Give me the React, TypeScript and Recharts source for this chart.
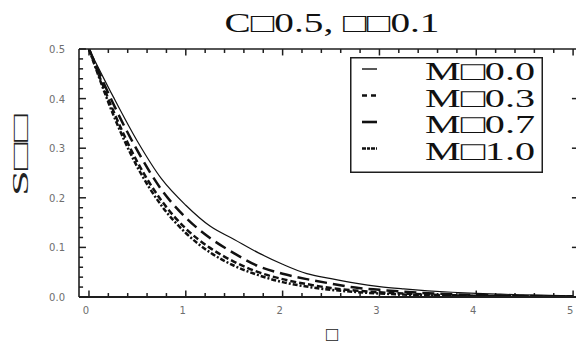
import React from 'react';
import { LineChart, Line, XAxis, YAxis, Legend, ReferenceLine } from 'recharts';

// Similarity variable (x) and profiles S for each M
const ETA = [0, 0.25, 0.5, 0.75, 1, 1.25, 1.5, 1.75, 2, 2.25, 2.5, 2.75, 3, 3.25, 3.5, 3.75, 4, 4.25, 4.5, 4.75, 5];
const S_M00 = [0.5, 0.404, 0.314, 0.238, 0.185, 0.143, 0.116, 0.089, 0.066, 0.047, 0.037, 0.028, 0.021, 0.0163, 0.0125, 0.0096, 0.0073, 0.0056, 0.0043, 0.0033, 0.0025];
const S_M03 = [0.5, 0.39, 0.295, 0.216, 0.16, 0.119, 0.088, 0.062, 0.047, 0.036, 0.027, 0.019, 0.0145, 0.0106, 0.0077, 0.0056, 0.0041, 0.003, 0.0021, 0.0015, 0.0011];
const S_M07 = [0.5, 0.376, 0.272, 0.194, 0.138, 0.099, 0.071, 0.05, 0.036, 0.026, 0.018, 0.013, 0.0094, 0.0068, 0.0049, 0.0035, 0.0025, 0.0018, 0.0013, 0.001, 0.0007];
const S_M10 = [0.5, 0.368, 0.262, 0.184, 0.129, 0.09, 0.063, 0.044, 0.03, 0.021, 0.0145, 0.0102, 0.0071, 0.005, 0.0035, 0.0024, 0.0017, 0.0012, 0.0009, 0.0006, 0.0004];

const SERIES_LABELS = ['M\u25A10.0', 'M\u25A10.3', 'M\u25A10.7', 'M\u25A11.0'];
const TITLE = 'C\u25A10.5, \u25A1\u25A10.1';
const X_LABEL = '\u25A1';
const Y_LABEL = 'S\u25A1\u25A1';

const X_TICKS = [0, 0.2, 0.4, 0.6, 0.8, 1, 1.2, 1.4, 1.6, 1.8, 2, 2.2, 2.4, 2.6, 2.8, 3, 3.2, 3.4, 3.6, 3.8, 4, 4.2, 4.4, 4.6, 4.8, 5];
const Y_TICKS = [0, 0.02, 0.04, 0.06, 0.08, 0.1, 0.12, 0.14, 0.16, 0.18, 0.2, 0.22, 0.24, 0.26, 0.28, 0.3, 0.32, 0.34, 0.36, 0.38, 0.4, 0.42, 0.44, 0.46, 0.48, 0.5];
const Y_TICKS_RIGHT = [0.1, 0.2, 0.3, 0.4];
const X_LABEL_TICKS = [0, 1, 2, 3, 4, 5];
const Y_LABEL_TICKS = [0, 0.1, 0.2, 0.3, 0.4, 0.5];

const X_DOMAIN: [number, number] = [-0.103, 5.03];
const Y_DOMAIN: [number, number] = [0, 0.5];

// Frame tick lengths in data units (about 97 px per x unit, 496 px per y unit)
const X_TICK_LEN = { major: 0.013, minor: 0.008 };
const Y_TICK_LEN = { major: 0.072, minor: 0.042 };

const data = ETA.map((x, i) => ({ x, m00: S_M00[i], m03: S_M03[i], m07: S_M07[i], m10: S_M10[i] }));

// Each frame side is tied to a series so that it is drawn; all share one domain.
const SERIES = [
  { key: 'm00', xAxis: 'top', yAxis: 'left', dash: undefined as string | undefined, width: 1.2, legendDash: undefined as string | undefined, legendWidth: 1.4 },
  { key: 'm03', xAxis: 'bottom', yAxis: 'right', dash: '12 6', width: 2.5, legendDash: '5 4', legendWidth: 2.6 },
  { key: 'm07', xAxis: 'bottom', yAxis: 'left', dash: '6 3', width: 2.5, legendDash: undefined, legendWidth: 2.6 },
  { key: 'm10', xAxis: 'bottom', yAxis: 'left', dash: '5 2 2 2', width: 2.5, legendDash: '4 1 3 1', legendWidth: 2.6 },
];

const FRAME = '#1e1e1e';
const TICK_TEXT = '#6e6e6e';
const SERIF = '"Liberation Serif", "Times New Roman", serif';
const SANS = '"DejaVu Sans", Tahoma, sans-serif';

const isMajor = (v: number, step: number) => Math.abs(v / step - Math.round(v / step)) < 1e-6;

const BottomLabel = (p: any) => (
  <text x={Number(p.x) - 3} y={Number(p.y) + 17} textAnchor="middle" fontSize={10} fontFamily={SANS} fill={TICK_TEXT}>
    {p.payload.value}
  </text>
);

const LeftLabel = (p: any) => (
  <text x={Number(p.x) - 14} y={Number(p.y) + 4} textAnchor="end" fontSize={10} fontFamily={SANS} fill={TICK_TEXT}>
    {Number(p.payload.value).toFixed(1)}
  </text>
);

const LegendBox = () => (
  <svg width={193} height={116} style={{ display: 'block' }}>
    <rect x={0.75} y={0.75} width={191.5} height={114.5} fill="#fff" stroke={FRAME} strokeWidth={1.5} />
    {SERIES.map((s, i) => {
      const base = 23 + i * 26.5;
      return (
        <g key={s.key}>
          <line x1={12} x2={27} y1={base - 11} y2={base - 11} stroke="#111" strokeWidth={s.legendWidth} strokeDasharray={s.legendDash} />
          <text x={75} y={base} fontSize={26} fontFamily={SERIF} fill="#111" textLength={110} lengthAdjust="spacingAndGlyphs">
            {SERIES_LABELS[i]}
          </text>
        </g>
      );
    })}
  </svg>
);

// Inward frame ticks drawn as short reference segments on the bottom/left scales
const frameTicks = () => {
  const out: React.ReactNode[] = [];
  X_TICKS.forEach((v) => {
    const len = isMajor(v, 1) ? X_TICK_LEN.major : X_TICK_LEN.minor;
    out.push(
      <ReferenceLine key={`b${v}`} xAxisId="bottom" yAxisId="left" ifOverflow="visible" stroke={FRAME} strokeWidth={1.5}
        segment={[{ x: v, y: Y_DOMAIN[0] }, { x: v, y: Y_DOMAIN[0] + len }]} />,
      <ReferenceLine key={`t${v}`} xAxisId="bottom" yAxisId="left" ifOverflow="visible" stroke={FRAME} strokeWidth={1.5}
        segment={[{ x: v, y: Y_DOMAIN[1] }, { x: v, y: Y_DOMAIN[1] - len }]} />
    );
  });
  Y_TICKS.forEach((v) => {
    const len = isMajor(v, 0.1) ? Y_TICK_LEN.major : Y_TICK_LEN.minor;
    out.push(
      <ReferenceLine key={`l${v}`} xAxisId="bottom" yAxisId="left" ifOverflow="visible" stroke={FRAME} strokeWidth={1.5}
        segment={[{ x: X_DOMAIN[0], y: v }, { x: X_DOMAIN[0] + len, y: v }]} />
    );
  });
  Y_TICKS_RIGHT.forEach((v) => {
    out.push(
      <ReferenceLine key={`r${v}`} xAxisId="bottom" yAxisId="left" ifOverflow="visible" stroke={FRAME} strokeWidth={1.5}
        segment={[{ x: X_DOMAIN[1], y: v }, { x: X_DOMAIN[1] - Y_TICK_LEN.minor, y: v }]} />
    );
  });
  return out;
};

export default function App() {
  return (
    <div style={{ position: 'absolute', left: 0, top: 0, width: 577, height: 344, background: '#fff' }}>
      <LineChart width={577} height={344} data={data} margin={{ top: 48, right: 0, bottom: 0, left: 0 }}>
        <XAxis
          xAxisId="bottom"
          dataKey="x"
          type="number"
          domain={X_DOMAIN}
          allowDataOverflow
          ticks={X_LABEL_TICKS}
          interval={0}
          height={47}
          tickSize={0}
          tickMargin={0}
          tickLine={false}
          tick={<BottomLabel />}
          axisLine={{ stroke: FRAME, strokeWidth: 2 }}
        />
        <XAxis
          xAxisId="top"
          orientation="top"
          dataKey="x"
          type="number"
          domain={X_DOMAIN}
          allowDataOverflow
          ticks={X_LABEL_TICKS}
          interval={0}
          height={1}
          tick={false}
          tickLine={false}
          axisLine={{ stroke: FRAME, strokeWidth: 1.6 }}
        />
        <YAxis
          yAxisId="left"
          type="number"
          domain={Y_DOMAIN}
          allowDataOverflow
          ticks={Y_LABEL_TICKS}
          interval={0}
          width={79}
          tickSize={0}
          tickMargin={0}
          tickLine={false}
          tick={<LeftLabel />}
          axisLine={{ stroke: FRAME, strokeWidth: 1.6 }}
        />
        <YAxis
          yAxisId="right"
          orientation="right"
          type="number"
          domain={Y_DOMAIN}
          allowDataOverflow
          ticks={Y_TICKS_RIGHT}
          interval={0}
          width={1}
          tick={false}
          tickLine={false}
          axisLine={false}
        />
        {frameTicks()}
        {SERIES.map((s) => (
          <Line
            key={s.key}
            xAxisId={s.xAxis}
            yAxisId={s.yAxis}
            dataKey={s.key}
            type="monotone"
            stroke="#111"
            strokeWidth={s.width}
            strokeDasharray={s.dash}
            dot={false}
            activeDot={false}
            isAnimationActive={false}
          />
        ))}
        <Legend
          layout="horizontal"
          verticalAlign="middle"
          align="center"
          wrapperStyle={{ left: 350, top: 57, width: 193, height: 116 }}
          content={() => <LegendBox />}
        />
      </LineChart>
      <svg width={577} height={344} style={{ position: 'absolute', left: 0, top: 0, pointerEvents: 'none' }}>
        <text x={332} y={32} textAnchor="middle" fontSize={27} fontFamily={SERIF} fill="#111" textLength={215} lengthAdjust="spacingAndGlyphs">
          {TITLE}
        </text>
        <text x={332} y={341} textAnchor="middle" fontSize={20} fontFamily={SERIF} fill="#222">
          {X_LABEL}
        </text>
        <text
          x={0}
          y={0}
          transform="translate(28 155) rotate(-90)"
          textAnchor="middle"
          fontSize={24}
          fontFamily={SERIF}
          fill="#222"
          textLength={82}
          lengthAdjust="spacingAndGlyphs"
        >
          {Y_LABEL}
        </text>
      </svg>
    </div>
  );
}
